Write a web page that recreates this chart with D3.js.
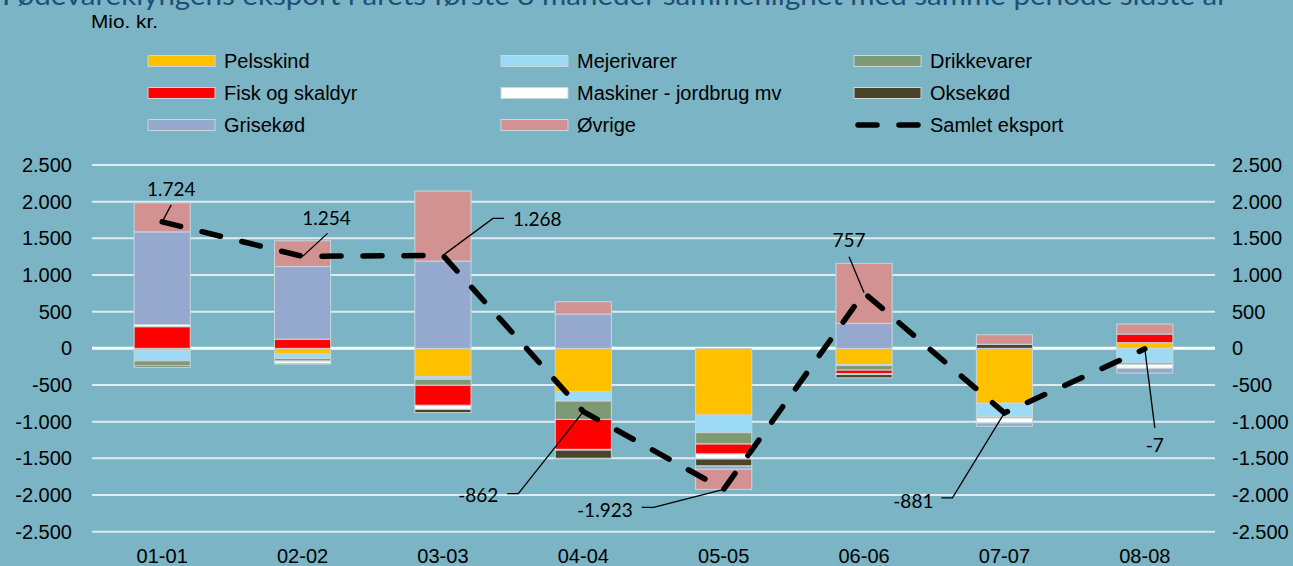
<!DOCTYPE html>
<html>
<head>
<meta charset="utf-8">
<script src="https://cdn.jsdelivr.net/npm/d3@7"></script>
<style>
  body { margin: 0; background: #7ab4c5; }
  svg text { font-family: "Liberation Sans", Arial, sans-serif; }
</style>
</head>
<body>
<div id="chart"></div>
<script>
// categories (month pairs)
const months = ["01-01", "02-02", "03-03", "04-04", "05-05", "06-06", "07-07", "08-08"];

// change in export per group, mio. kr.
const pelsskind   = [-30, -78, -387, -592, -909, -220, -748, 77];
const mejerivarer = [-140, -60, -35, -127, -241, -15, -182, -196];
const drikkevarer = [-70, -35, -82, -250, -155, -62, -20, -22];
const fisk        = [295, 125, -273, -409, -136, -50, 0, 118];
const maskiner    = [30, -35, -55, -10, -68, -10, -68, -55];
const oksekod     = [-20, -5, -45, -110, -95, -45, 55, 0];
const grisekod    = [1263, 990, 1190, 468, -45, 341, -45, -65];
const ovrige      = [396, 352, 955, 168, -274, 818, 131, 136];
const samlet      = [1724, 1254, 1268, -862, -1923, 757, -881, -7];

const seriesNames  = ["Pelsskind", "Mejerivarer", "Drikkevarer", "Fisk og skaldyr", "Maskiner - jordbrug mv", "Oksekød", "Grisekød", "Øvrige"];
const seriesValues = [pelsskind, mejerivarer, drikkevarer, fisk, maskiner, oksekod, grisekod, ovrige];
const seriesColors = ["#ffc000", "#9cdaf5", "#7e9a74", "#ff0000", "#ffffff", "#4a4529", "#95a9cf", "#d29292"];

const yTicks = [2500, 2000, 1500, 1000, 500, 0, -500, -1000, -1500, -2000, -2500];

// where each total label sits, relative to its point (leader path + text)
const labelLeaders = [
  [[9, -17]], [[25, -23]], [[50, -37], [61, -37]], [[-65, 82], [-76, 82]],
  [[-70, 18], [-82, 18]], [[-15, -36]], [[-52, 85], [-63, 85]], [[10, 79]]
];
const labelText = [
  [9, -33, "middle"], [24, -38, "middle"], [70, -36, "start"], [-85, 84, "end"],
  [-91, 21, "end"], [-15, -52, "middle"], [-71, 88, "end"], [10, 96, "middle"]
];

const width = 1293, height = 566;
const locale = d3.formatLocale({ decimal: ",", thousands: ".", grouping: [3], currency: ["", " kr."], minus: "-" });
const fmt = locale.format(",");

const svg = d3.select("#chart").append("svg")
  .attr("width", width)
  .attr("height", height);

svg.append("rect").attr("width", width).attr("height", height).attr("fill", "#7ab4c5");

// title, cut at the top edge like the original
svg.append("text")
  .attr("x", 2)
  .attr("y", 5)
  .attr("fill", "#1f4e79")
  .style("font-family", "Lato, sans-serif")
  .style("font-size", "26px")
  .attr("textLength", 1226)
  .attr("lengthAdjust", "spacingAndGlyphs")
  .text("Fødevareklyngens eksport i årets første 8 måneder sammenlignet med samme periode sidste år");

svg.append("text")
  .attr("x", 91)
  .attr("y", 28)
  .style("font-size", "18px")
  .attr("textLength", 67)
  .attr("lengthAdjust", "spacingAndGlyphs")
  .attr("fill", "#000")
  .text("Mio. kr.");

// scales
const x = d3.scaleBand().domain(months).range([92, 1215]).paddingInner(0.6).paddingOuter(0.3);
const y = d3.scaleLinear().domain([-2500, 2500]).range([531.7, 165]);

// grid
svg.append("g")
  .selectAll("line")
  .data(yTicks)
  .join("line")
  .attr("x1", 92)
  .attr("x2", 1215)
  .attr("y1", d => y(d))
  .attr("y2", d => y(d))
  .attr("stroke", d => d === 0 ? "#ffffff" : "#dcecf1")
  .attr("stroke-width", d => d === 0 ? 3 : 2);

// left and right tick labels
const leftAxis = svg.append("g")
  .attr("transform", "translate(92,0)")
  .call(d3.axisLeft(y).tickValues(yTicks).tickFormat(fmt).tickSize(0).tickPadding(20));
const rightAxis = svg.append("g")
  .attr("transform", "translate(1215,0)")
  .call(d3.axisRight(y).tickValues(yTicks).tickFormat(fmt).tickSize(0).tickPadding(17));
[leftAxis, rightAxis].forEach(a => {
  a.select(".domain").remove();
  a.selectAll("text").style("font-size", "20px").style("font-family", "'Liberation Sans', Arial, sans-serif").attr("fill", "#000");
});

// x labels
const xAxis = svg.append("g")
  .attr("transform", "translate(0,541)")
  .call(d3.axisBottom(x).tickSize(0).tickPadding(8));
xAxis.select(".domain").remove();
xAxis.selectAll("text").style("font-size", "20px").style("font-family", "'Liberation Sans', Arial, sans-serif").attr("fill", "#000");

// stacked bars, positives and negatives stacked apart like Excel
const rows = months.map((m, i) => {
  const r = { month: m };
  seriesNames.forEach((s, j) => r[s] = seriesValues[j][i]);
  return r;
});
const stacked = d3.stack().keys(seriesNames).offset(d3.stackOffsetDiverging)(rows);

svg.append("g")
  .selectAll("g")
  .data(stacked)
  .join("g")
  .attr("fill", (d, i) => seriesColors[i])
  .selectAll("rect")
  .data(d => d.filter(p => p[1] - p[0] !== 0))
  .join("rect")
  .attr("x", d => x(d.data.month))
  .attr("width", x.bandwidth())
  .attr("y", d => y(Math.max(d[0], d[1])))
  .attr("height", d => Math.abs(y(d[0]) - y(d[1])))
  .attr("stroke", "#c8d6db")
  .attr("stroke-width", 1);

// total line
const cx = i => x(months[i]) + x.bandwidth() / 2;
const line = d3.line().x((d, i) => cx(i)).y(d => y(d));

svg.append("path")
  .datum(samlet)
  .attr("d", line)
  .attr("fill", "none")
  .attr("stroke", "#000")
  .attr("stroke-width", 5.5)
  .attr("stroke-linecap", "round")
  .attr("stroke-dasharray", "19,22");

// total labels with leader lines
const labels = svg.append("g");
samlet.forEach((v, i) => {
  const px = cx(i), py = y(v);
  const pts = [[px, py]].concat(labelLeaders[i].map(o => [px + o[0], py + o[1]]));
  labels.append("path")
    .attr("d", d3.line()(pts))
    .attr("fill", "none")
    .attr("stroke", "#000")
    .attr("stroke-width", 1.3);
  labels.append("text")
    .attr("x", px + labelText[i][0])
    .attr("y", py + labelText[i][1])
    .attr("dy", "0.35em")
    .attr("text-anchor", labelText[i][2])
    .style("font-family", "Lato, sans-serif")
    .style("font-size", "19px")
    .attr("fill", "#000")
    .text(fmt(v));
});

// legend, 3 columns
const legendItems = seriesNames.map((s, i) => ({ name: s, color: seriesColors[i], dash: false }))
  .concat([{ name: "Samlet eksport", color: "#000", dash: true }]);
const legendCols = [148, 501, 854];
const legendRows = [61, 93, 125];

const legend = svg.append("g")
  .selectAll("g")
  .data(legendItems)
  .join("g")
  .attr("transform", (d, i) => `translate(${legendCols[i % 3]},${legendRows[Math.floor(i / 3)]})`);

legend.filter(d => !d.dash).append("rect")
  .attr("x", 0)
  .attr("y", -5.5)
  .attr("width", 67)
  .attr("height", 11)
  .attr("fill", d => d.color)
  .attr("stroke", "#c8d6db")
  .attr("stroke-width", 1);

legend.filter(d => d.dash).append("line")
  .attr("x1", 4)
  .attr("x2", 64)
  .attr("stroke", "#000")
  .attr("stroke-width", 5.5)
  .attr("stroke-linecap", "round")
  .attr("stroke-dasharray", "19,22");

legend.append("text")
  .attr("x", 76)
  .attr("dy", "0.35em")
  .style("font-size", "20px")
  .attr("fill", "#000")
  .text(d => d.name);
</script>
</body>
</html>
